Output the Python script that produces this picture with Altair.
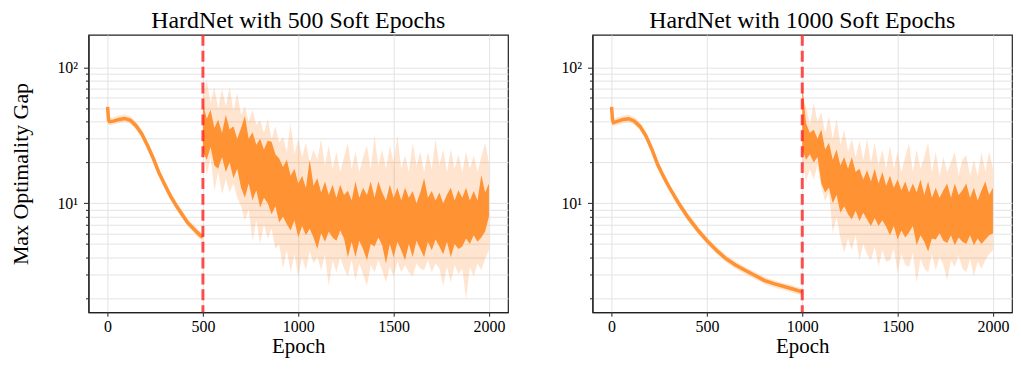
import altair as alt
import pandas as pd

# ---------------- data ----------------
# Panel 1: HardNet with 500 Soft Epochs
# smooth (soft-training) phase: mean curve and its narrow band
p1_smooth_epoch = [0, 5, 10, 30, 60, 90, 120, 150, 180, 210, 240, 270, 300, 330, 360, 390, 420, 450, 480, 500]
p1_smooth_gap = [51.4, 41, 40, 40.4, 41.6, 42.3, 41, 37.2, 32.4, 26.6, 21.4, 16.7, 13.7, 11.3, 9.6, 8.3, 7.2, 6.5, 5.9, 5.6]
p1_smooth_hi = [58, 43.5, 42.6, 43.2, 44.5, 45.3, 43.9, 39.8, 34.7, 28.5, 22.9, 17.9, 14.7, 12.1, 10.3, 8.9, 7.7, 7.0, 6.3, 6.0]
p1_smooth_lo = [46, 38.5, 37.6, 38, 39.1, 39.8, 38.5, 35, 30.5, 25, 20.1, 15.7, 12.9, 10.6, 9.0, 7.8, 6.8, 6.1, 5.5, 5.3]

# hard phase: every 20 epochs, range of the (dense, oscillating) mean line and of the light band
p1_hard_epoch = list(range(500, 2001, 20))
p1_line_hi = [
    55, 42, 49, 36, 41.6, 33, 45, 35, 37, 30,
    36, 44, 30, 33.5, 27, 30, 25, 29, 28.5, 23,
    21.4, 18.5, 21, 16, 18, 14, 16, 13, 21, 13.5,
    15.3, 12, 14.5, 11.5, 13.7, 11, 13.7, 11.5, 12.4, 10.5,
    14.5, 11, 13, 11.5, 14.5, 11, 14.5, 12, 10.5, 13.7,
    11, 13, 10.5, 13, 11, 12.3, 10, 12, 15.3, 11,
    12.3, 10.5, 12, 10, 11.6, 13, 10.5, 12.5, 11, 13,
    10.5, 12.3, 10.5, 16.2, 12, 14,
]
p1_line_lo = [
    24, 21, 26, 19, 18, 22, 17, 20, 15.3, 18,
    13, 11, 14, 10.5, 12.5, 9.3, 11, 10, 8.3, 9.5,
    7.2, 8, 7, 6.3, 7.5, 5.6, 6.8, 5.8, 6.5, 5.6,
    4.6, 6, 5.2, 6.2, 5.6, 5.3, 6.3, 5.5, 4.0, 5.2,
    4.0, 5.3, 4.6, 3.8, 5, 4.8, 5.6, 4.9, 3.6, 5,
    4, 5.2, 4.5, 3.8, 5, 4, 5.3, 4.6, 4, 5.2,
    4.5, 5.4, 4.8, 4.2, 5.2, 4, 5, 4.6, 4.8, 5.5,
    5, 5.8, 5.2, 5.6, 6.2, 8,
]
p1_band_hi = [
    60, 81, 55, 72, 50, 70, 52, 72, 48, 65,
    45, 52, 40, 49, 38, 41, 33, 42, 30, 37,
    28, 31, 24, 39, 23, 29.8, 22, 28, 20, 25,
    21, 30, 19, 26.7, 18, 24, 17, 22, 28, 18,
    24, 17, 22, 26.7, 18, 31.5, 19, 25, 18, 26.7,
    20, 31.5, 18, 22.6, 17, 28, 19, 24, 17, 24,
    18, 29.8, 19, 25, 17, 25, 18, 23, 17, 24,
    18, 22.6, 17, 22, 28, 20,
]
p1_band_lo = [
    28, 16, 22, 12.4, 17, 11.6, 15, 12, 14, 11,
    9.5, 7.5, 9, 5.3, 7.5, 5, 7, 5.5, 6.5, 4.6,
    5, 3.3, 4.5, 3.1, 4.2, 2.9, 4, 3.2, 4.4, 3.6,
    4, 3.2, 4.2, 2.45, 3.8, 3.1, 4, 3.3, 2.9, 3.8,
    2.7, 3.6, 3, 2.45, 3.5, 3.1, 3.8, 3.2, 2.6, 3.4,
    2.9, 3.7, 3.1, 3.5, 3.1, 2.9, 3.6, 3.3, 3.2, 3.8,
    3.1, 3.6, 3.3, 2.45, 3.4, 2.6, 3.5, 3, 3.3, 1.96,
    3.4, 2.9, 3.6, 3.2, 3.9, 4.5,
]

# Panel 2: HardNet with 1000 Soft Epochs
p2_smooth_epoch = [0, 5, 10, 30, 60, 90, 120, 150, 180, 210, 240, 270, 300, 350, 400, 450, 500,
                   550, 600, 650, 700, 750, 800, 850, 900, 950, 1000]
p2_smooth_gap = [51.4, 41, 39.4, 40.2, 41.6, 42.1, 40.4, 36.8, 31.5, 25.3, 19.6, 16.0, 13.3, 10.1, 7.9, 6.4, 5.3,
                 4.5, 3.9, 3.5, 3.2, 2.94, 2.7, 2.55, 2.44, 2.33, 2.22]
p2_smooth_hi = [58, 43.5, 42, 43, 44.5, 45, 43.2, 39.4, 33.7, 27, 21, 17.1, 14.2, 10.8, 8.45, 6.85, 5.65,
                4.8, 4.15, 3.72, 3.4, 3.12, 2.87, 2.7, 2.58, 2.47, 2.35]
p2_smooth_lo = [46, 38.5, 37, 37.8, 39, 39.5, 37.9, 34.5, 29.6, 23.8, 18.4, 15, 12.5, 9.5, 7.4, 6.0, 4.98,
                4.23, 3.67, 3.29, 3.01, 2.76, 2.54, 2.4, 2.29, 2.19, 2.09]

p2_hard_epoch = list(range(1000, 2001, 20))
p2_line_hi = [
    76, 39, 33, 35, 30, 35, 25, 28, 21, 25,
    19, 22, 18, 22, 17, 18, 15, 17.5, 14.5, 18,
    14, 17, 13.5, 16, 13, 15, 12.5, 14.5, 12, 14,
    12, 15, 11.5, 14.5, 11, 13, 11, 12.5, 14, 11,
    14, 11.5, 12.5, 14, 11, 13, 10.5, 12.5, 14.5, 11.5, 13,
]
p2_line_lo = [
    25, 21, 23, 20, 22, 14, 12, 13, 10, 11.5,
    8.5, 9.5, 8.3, 7.6, 8.8, 7.4, 8.5, 7.6, 6.8, 7.8,
    6.8, 7.5, 6.7, 5.8, 6.8, 5.4, 6.3, 5.6, 6.1, 6.8,
    4.9, 5.8, 5.2, 4.4, 5.5, 5.4, 6, 5.3, 5.1, 5.8,
    4.9, 5.6, 5.2, 5, 5.8, 4.9, 5.5, 5, 5.4, 5.8, 6,
]
p2_band_hi = [
    60, 52, 38, 55, 40, 47, 33, 44, 30, 42,
    27, 35, 24, 30, 22, 29, 21, 30, 20, 28,
    19, 25, 18, 26.7, 18, 23.9, 17, 22, 28, 17,
    25, 18, 22, 28, 17, 24, 16, 22, 17, 20,
    24, 16, 21, 22.6, 16, 21, 16, 24, 17, 24, 18,
]
p2_band_lo = [
    20, 14.5, 18, 15, 19, 13, 10.4, 12, 6, 8,
    5.5, 4.3, 5.5, 4.5, 5.8, 3.8, 5, 4.2, 3.8, 4.8,
    3.4, 4.5, 3.7, 3.8, 4.6, 3.1, 4.2, 3.5, 3.4, 4.3,
    2.6, 3.9, 3.3, 3.1, 4.2, 3.2, 4, 3.5, 2.7, 3.8,
    3.4, 4.1, 3.3, 3.1, 3.9, 2.9, 3.7, 3.3, 3.8, 4.2, 4.5,
]

titles = ["HardNet with 500 Soft Epochs", "HardNet with 1000 Soft Epochs"]
switch_epochs = [500, 1000]
x_ticks = [0, 500, 1000, 1500, 2000]
y_ticks = [2, 3, 4, 5, 6, 7, 8, 9, 10, 20, 30, 40, 50, 60, 70, 80, 90, 100]

# ---------------- styling ----------------
FONT = "Liberation Serif"
LINE_COLOR = "#ff9233"
BAND_COLOR = "#ff7f0e"
RULE_COLOR = "#ff1f1f"
W, H = 422, 279


def panel(smooth_e, smooth_g, smooth_hi, smooth_lo, hard_e, line_hi, line_lo, band_hi, band_lo,
          title, switch, show_ytitle):
    smooth_df = pd.DataFrame({"epoch": smooth_e, "gap": smooth_g})
    band_df = pd.DataFrame({
        "epoch": list(smooth_e) + list(hard_e),
        "hi": list(smooth_hi) + list(band_hi),
        "lo": list(smooth_lo) + list(band_lo),
        "seg": ["a"] * len(smooth_e) + ["b"] * len(hard_e),
    })
    hard_df = pd.DataFrame({"epoch": hard_e, "hi": line_hi, "lo": line_lo})
    rule_df = pd.DataFrame({"epoch": [switch]})

    xs = alt.Scale(domain=[-100, 2100], nice=False, zero=False)
    ys = alt.Scale(type="log", domain=[1.57, 175], nice=False, clamp=True)
    xaxis = alt.Axis(values=x_ticks, title="Epoch", grid=True, format="d",
                     tickSize=4, labelPadding=2, titlePadding=2, titleFontSize=21)
    yaxis = alt.Axis(
        values=y_ticks, grid=True,
        labelExpr="datum.value == 10 ? '10¹' : (datum.value == 100 ? '10²' : '')",
        tickSize={"condition": {"test": "datum.value == 10 || datum.value == 100", "value": 5}, "value": 3},
        labelPadding=6, titlePadding=25,
        title="Max Optimality Gap" if show_ytitle else None,
    )

    band = alt.Chart(band_df).mark_area(color=BAND_COLOR, opacity=0.2, interpolate="linear").encode(
        x=alt.X("epoch:Q", scale=xs, axis=xaxis),
        y=alt.Y("lo:Q", scale=ys, axis=yaxis),
        y2="hi:Q",
        detail="seg:N",
    )
    smooth = alt.Chart(smooth_df).mark_line(color=LINE_COLOR, strokeWidth=3.5).encode(
        x=alt.X("epoch:Q", scale=xs),
        y=alt.Y("gap:Q", scale=ys),
    )
    hard = alt.Chart(hard_df).mark_area(color=LINE_COLOR, opacity=1, interpolate="linear").encode(
        x=alt.X("epoch:Q", scale=xs),
        y=alt.Y("lo:Q", scale=ys),
        y2="hi:Q",
    )
    rule = alt.Chart(rule_df).mark_rule(color=RULE_COLOR, strokeWidth=3, strokeDash=[11, 5], opacity=0.78).encode(
        x=alt.X("epoch:Q", scale=xs),
    )
    return alt.layer(band, smooth, hard, rule).properties(
        width=W, height=H,
        title=alt.TitleParams(title, font=FONT, fontSize=24, fontWeight="normal", anchor="middle",
                              color="black", offset=0),
    )


left = panel(p1_smooth_epoch, p1_smooth_gap, p1_smooth_hi, p1_smooth_lo, p1_hard_epoch, p1_line_hi, p1_line_lo,
             p1_band_hi, p1_band_lo, titles[0], switch_epochs[0], True)
right = panel(p2_smooth_epoch, p2_smooth_gap, p2_smooth_hi, p2_smooth_lo, p2_hard_epoch, p2_line_hi, p2_line_lo,
              p2_band_hi, p2_band_lo, titles[1], switch_epochs[1], False)

chart = alt.hconcat(left, right, spacing=51).properties(
    padding={"left": 0, "top": -1, "right": 0, "bottom": 0},
    background="white",
).configure_axis(
    labelFont=FONT, labelFontSize=16, labelColor="black",
    titleFont=FONT, titleFontSize=22, titleFontWeight="normal", titleColor="black",
    domainColor="#222", domainWidth=1.2, tickColor="#222", tickWidth=1,
    gridColor="#e3e3e3", gridWidth=1,
).configure_view(
    stroke="#222", strokeWidth=1.2,
)

chart.save("out.html", embed_options={"renderer": "svg", "actions": False})
